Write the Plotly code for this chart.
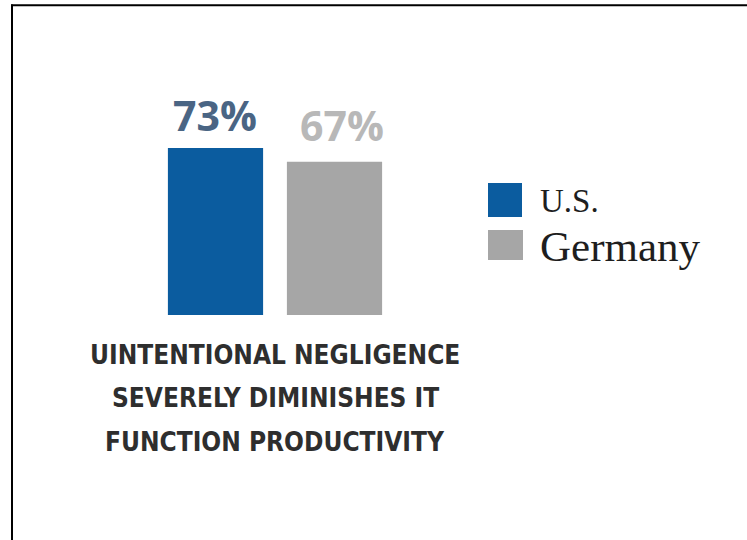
import plotly.graph_objects as go

# ---- data ----
category = "UINTENTIONAL NEGLIGENCE SEVERELY DIMINISHES IT FUNCTION PRODUCTIVITY"
category_lines = ["UINTENTIONAL NEGLIGENCE", "SEVERELY DIMINISHES IT", "FUNCTION PRODUCTIVITY"]
categories = [category]
series_names = ["U.S.", "Germany"]
us_values = [73]
germany_values = [67]
us_labels = ["73%"]
germany_labels = ["67%"]

# ---- styles ----
bar_colors = ["#0b5c9f", "#a6a6a6"]
label_colors = ["#4a6584", "#b8b8b8"]

W_FIG, H_FIG = 747, 540
ML, MR, MT, MB = 140, 337, 100, 225
PW = W_FIG - ML - MR
PH = H_FIG - MT - MB


def px_x(p):
    return (p - ML) / PW


def px_y(p):
    return 1 - (p - MT) / PH


fig = go.Figure()
fig.add_trace(go.Bar(x=categories, y=us_values, name=series_names[0],
                     marker=dict(color=bar_colors[0], line=dict(width=0))))
fig.add_trace(go.Bar(x=categories, y=germany_values, name=series_names[1],
                     marker=dict(color=bar_colors[1], line=dict(width=0))))

annotations = []
# value labels
for vals, labs, col, xs, ys in [(us_values, us_labels, label_colors[0], -60, 3),
                                (germany_values, germany_labels, label_colors[1], 67, 7)]:
    for c, v, t in zip(categories, vals, labs):
        annotations.append(dict(x=c, y=v, xref="x", yref="y", text="<b>" + t + "</b>",
                                showarrow=False, xshift=xs, yshift=ys, yanchor="bottom",
                                font=dict(family="Open Sans, Liberation Sans, Arial", size=41, color=col)))

# category label (three lines, centred under the bar group)
line_centres = [355, 398, 442]
for txt, cy in zip(category_lines, line_centres):
    annotations.append(dict(x=category, y=px_y(cy), xref="x", yref="paper", text=txt,
                            showarrow=False, xanchor="center", yanchor="middle",
                            font=dict(family="DejaVu Sans Condensed, Liberation Sans Narrow, Arial Narrow, sans-serif",
                                      size=26, color="#2e2e2e", weight="bold")))

# manual legend
shapes = []
legend_boxes = [(488, 183, 522, 217), (488, 230, 523, 260)]
legend_text_y = [201, 246]
legend_sizes = [33, 43]
for name, col, box, ty, fs in zip(series_names, bar_colors, legend_boxes, legend_text_y, legend_sizes):
    shapes.append(dict(type="rect", xref="paper", yref="paper",
                       x0=px_x(box[0]), x1=px_x(box[2]), y0=px_y(box[3]), y1=px_y(box[1]),
                       fillcolor=col, line=dict(width=0)))
    annotations.append(dict(x=px_x(538), y=px_y(ty), xref="paper", yref="paper", text=name,
                            showarrow=False, xanchor="left", yanchor="middle",
                            font=dict(family="Liberation Serif, Times New Roman, serif", size=fs, color="#1e1e1e")))

# frame border (top and left edges visible)
shapes.append(dict(type="line", xref="paper", yref="paper", x0=px_x(11), x1=px_x(747),
                   y0=px_y(5.25), y1=px_y(5.25), line=dict(color="black", width=2)))
shapes.append(dict(type="line", xref="paper", yref="paper", x0=px_x(12), x1=px_x(12),
                   y0=px_y(4.5), y1=px_y(540), line=dict(color="black", width=2)))

fig.update_layout(
    width=W_FIG, height=H_FIG,
    margin=dict(l=ML, r=MR, t=MT, b=MB, pad=0),
    paper_bgcolor="white", plot_bgcolor="white",
    barmode="group", bargap=0.1185, bargroupgap=0.2,
    showlegend=False,
    annotations=annotations, shapes=shapes,
    xaxis=dict(type="category", range=[-0.5, 0.5], autorange=False,
               showline=False, showgrid=False, zeroline=False, showticklabels=False,
               ticks="", fixedrange=True),
    yaxis=dict(range=[0, 94], autorange=False, visible=False, fixedrange=True),
)

fig.write_html("out.html")
